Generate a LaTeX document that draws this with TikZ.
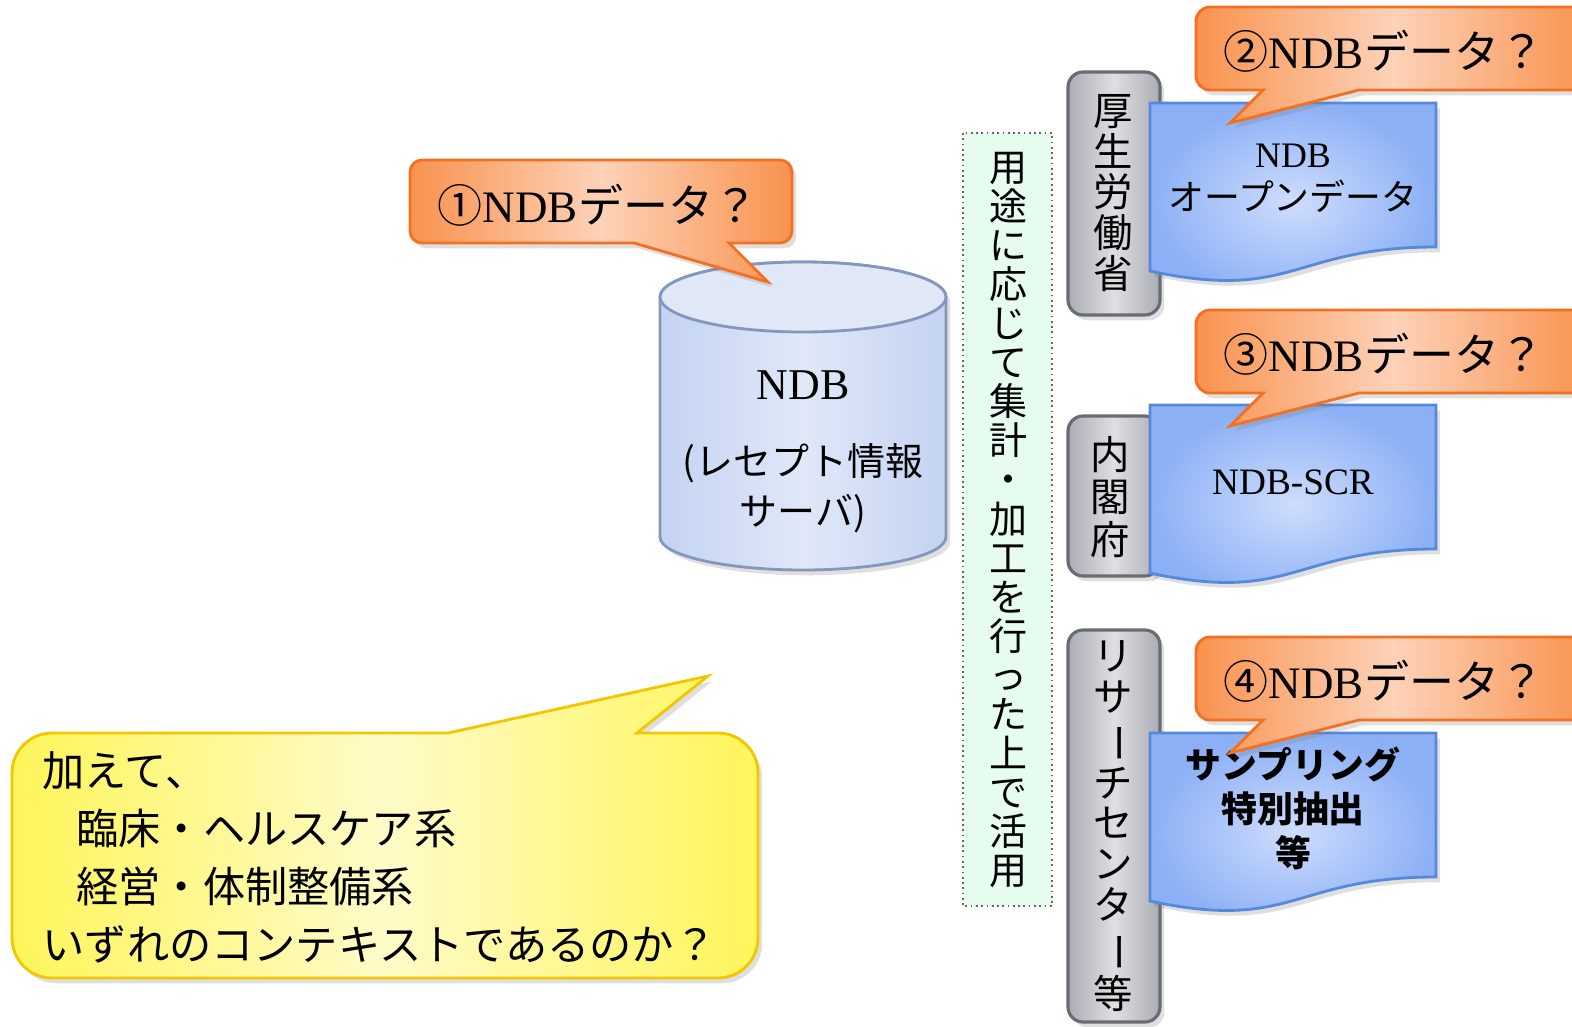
\documentclass[tikz,border=0pt]{standalone}
\usepackage{fontspec}
\usepackage{graphicx}
\usetikzlibrary{shadows}
\setmainfont{Liberation Serif}
\newfontfamily\jp{Noto Sans CJK JP}
\newcommand{\ndb}{{\rmfamily NDB}}
\newcommand{\vbar}{\rotatebox[origin=c]{-90}{ー}}

\definecolor{orline}{RGB}{243,112,33}
\definecolor{ordark}{RGB}{249,146,78}
\definecolor{orlight}{RGB}{253,210,184}
\definecolor{docline}{RGB}{86,136,220}
\definecolor{docout}{RGB}{140,176,246}
\definecolor{docin}{RGB}{206,221,252}
\definecolor{cylline}{RGB}{132,151,189}
\definecolor{cylbody}{RGB}{196,211,242}
\definecolor{cyltop}{RGB}{224,232,248}
\definecolor{grline}{RGB}{105,108,116}
\definecolor{grdark}{RGB}{170,173,180}
\definecolor{grlight}{RGB}{222,223,226}
\definecolor{yeline}{RGB}{242,198,0}
\definecolor{yedark}{RGB}{255,245,90}
\definecolor{yelight}{RGB}{255,251,200}
\definecolor{mint}{RGB}{229,252,239}

\begin{document}
\begin{tikzpicture}
[x=0.01cm,y=-0.01cm,every node/.style={font=\jp,inner sep=0pt,align=center},
 shade/.style={drop shadow={opacity=.25,shadow xshift=1.2pt,shadow yshift=-1.5pt}},
 askbox/.style={shade,draw=orline,line width=.8pt,left color=ordark,right color=ordark,middle color=orlight},
 asktext/.style={font=\jp\fontsize{12.8}{15}\selectfont},
 docbox/.style={shade,draw=docline,line width=.8pt,inner color=docin,outer color=docout},
 doctext/.style={font=\jp\fontsize{10.2}{12.3}\selectfont},
 orgbox/.style={shade,draw=grline,line width=.9pt,rounded corners=4.3pt,left color=grdark,right color=grdark,middle color=grlight},
 vtext/.style={font=\jp\fontsize{11.2}{11.6}\selectfont}]
\useasboundingbox (0,0) rectangle (1572,1027);

% use box
\draw[densely dotted,draw=black!60,fill=mint,line width=.5pt] (963,133) rectangle (1052,906);
\node[vtext,font=\jp\fontsize{10.8}{11.1}\selectfont] (use) at (1008,520)
 {用\\途\\に\\応\\じ\\て\\集\\計\\・\\加\\工\\を\\行\\っ\\た\\上\\で\\活\\用};

% database
\path[shade,draw=cylline,line width=.8pt,left color=cylbody,right color=cylbody,middle color=cyltop]
 (660,297) -- (660,537) arc[start angle=180,end angle=0,x radius=143,y radius=33]
 -- (946,297) arc[start angle=0,end angle=-180,x radius=143,y radius=35] -- cycle;
\draw[draw=cylline,line width=.8pt,fill=cyltop] (803,297) ellipse[x radius=143,y radius=35];
\node[font=\jp\fontsize{10.8}{14.2}\selectfont] (db) at (803,452)
 {{\fontsize{12.5}{14}\selectfont\ndb}\\[7.5pt](レセプト情報\\サーバ)};

% callout 1
\draw[askbox] (422,160) -- (780,160) arc[start angle=270,end angle=360,radius=12]
 -- (792,231) arc[start angle=0,end angle=90,radius=12]
 -- (729,243) -- (768,282) -- (634,243)
 -- (422,243) arc[start angle=90,end angle=180,radius=12]
 -- (410,172) arc[start angle=180,end angle=270,radius=12] -- cycle;
\node[asktext] (q1) at (598,205) {①\ndb データ？};

% organisations
\foreach \yt/\yb in {72/315,416/576,630/1022}
\draw[orgbox] (1068,\yt) rectangle (1160,\yb);
\node[vtext] (mhlw) at (1113,193) {厚\\生\\労\\働\\省};
\node[vtext,font=\jp\fontsize{11.2}{12.2}\selectfont] (cao) at (1110,497) {内\\閣\\府};
\node[vtext] (rc) at (1113,826) {リ\\サ\\\vbar\\チ\\セ\\ン\\タ\\\vbar\\等};

% documents
\foreach \yt in {103,405,733}
\draw[docbox] (1150,\yt) -- (1436,\yt) -- (1436,\yt+144)
 .. controls (1293,\yt+144) and (1293,\yt+199) .. (1150,\yt+168) -- cycle;
\node[doctext] (open) at (1293,178) {\ndb\\オープンデータ};
\node[doctext,font=\rmfamily\fontsize{10.6}{12}\selectfont] (scr) at (1293,482) {NDB-SCR};
\node[doctext,font=\jp\bfseries\fontsize{10.2}{12.5}\selectfont] (samp) at (1293,808) {サンプリング\\特別抽出\\等};

% callouts 2-4
\foreach \n/\yt/\lbl in {q2/7/②,q3/310/③,q4/637/④}{
\draw[askbox] (1210,\yt) -- (1590,\yt) -- (1590,\yt+83) -- (1359,\yt+83)
 -- (1230,\yt+116) -- (1263,\yt+83)
 -- (1210,\yt+83) arc[start angle=90,end angle=180,radius=14]
 -- (1196,\yt+14) arc[start angle=180,end angle=270,radius=14] -- cycle;
\node[asktext] (\n) at (1384,\yt+44) {\lbl\ndb データ？};
}

% context
\draw[shade,draw=yeline,line width=.8pt,left color=yedark,right color=yedark,middle color=yelight]
 (52,733) -- (448,733) -- (708,676) -- (637,733)
 -- (718,733) arc[start angle=270,end angle=360,radius=40]
 -- (758,938) arc[start angle=0,end angle=90,radius=40]
 -- (52,978) arc[start angle=90,end angle=180,radius=40]
 -- (12,773) arc[start angle=180,end angle=270,radius=40] -- cycle;
\node[anchor=west,align=left,font=\jp\fontsize{12}{16.5}\selectfont] (ctx) at (42,857)
 {加えて、\\\hspace*{0.8em}臨床・ヘルスケア系\\\hspace*{0.8em}経営・体制整備系\\いずれのコンテキストであるのか？};
\end{tikzpicture}
\end{document}
